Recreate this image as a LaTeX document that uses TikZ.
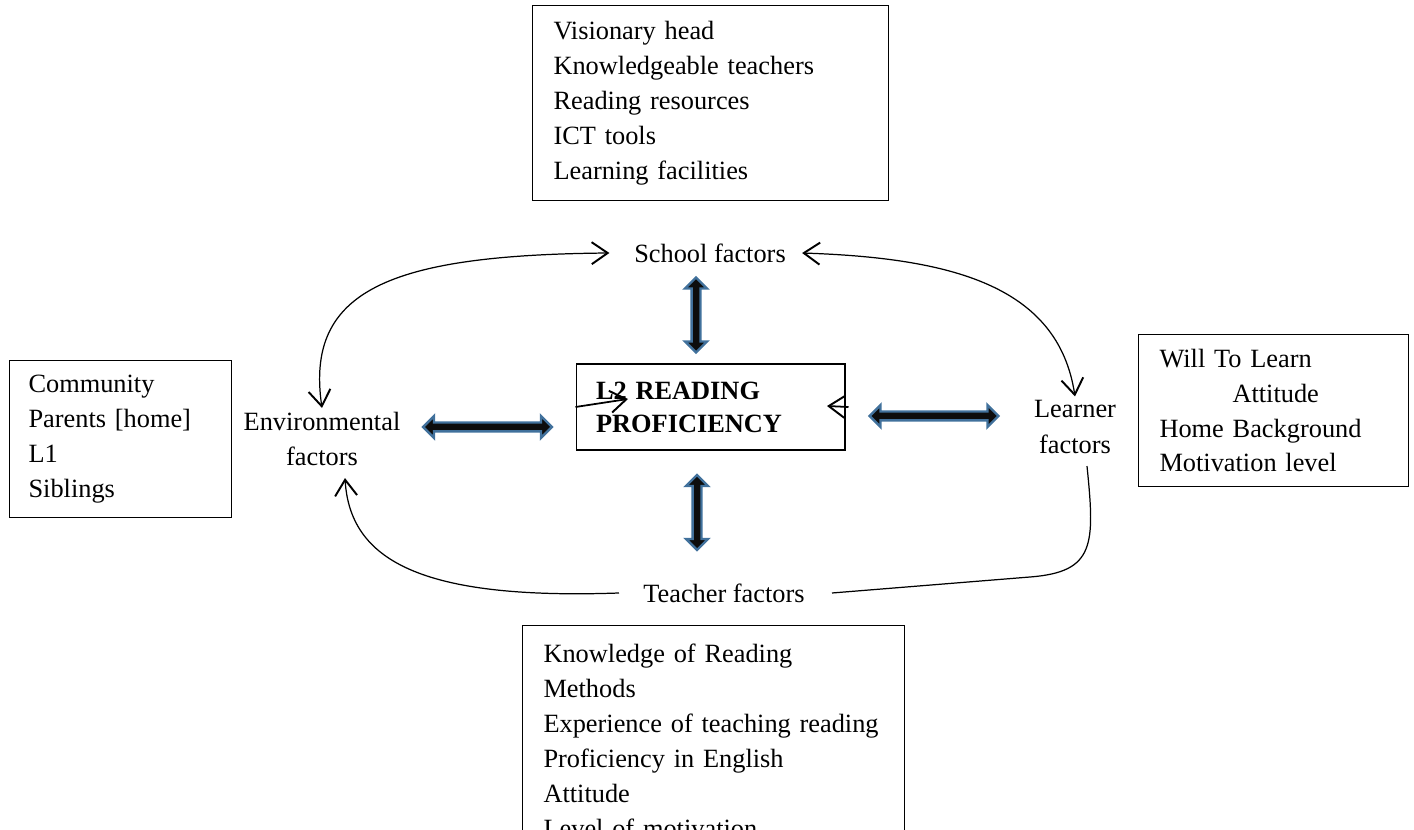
\documentclass[tikz,border=0pt]{standalone}
\usepackage{fontspec}
\setmainfont{Liberation Serif}
\usetikzlibrary{arrows.meta,shapes.arrows,positioning}
\definecolor{arrblue}{RGB}{65,113,156}

\begin{document}
\begin{tikzpicture}[x=0.02cm,y=-0.02cm,
  every node/.style={font=\fontsize{15}{19.9}\selectfont},
  lst/.style={draw,line width=0.6pt,anchor=north west,align=left,inner ysep=0pt},
  lbl/.style={align=center,inner sep=2pt},
  dbl/.style={double arrow,draw=arrblue,fill=black!95,line width=1.4pt,inner xsep=0pt,inner ysep=0.065cm,double arrow head extend=0.13cm},
  lnk/.style={line width=0.7pt},
  >={Straight Barb[length=0.32cm,width=0.44cm,line width=1.1pt]}]
\useasboundingbox (0,0) rectangle (1414,830);

\node[lst,text width=6.28cm,inner xsep=0.42cm,minimum height=3.9cm] (schoollist) at (532,5) {Visionary head\\Knowledgeable teachers\\Reading resources\\ICT tools\\Learning facilities};
\node[lst,text width=3.68cm,inner xsep=0.38cm,minimum height=3.14cm] (envlist) at (9,360) {Community\\Parents [home]\\L1\\Siblings};
\node[lst,text width=4.56cm,inner xsep=0.42cm,minimum height=3.04cm] (learnerlist) at (1138,334) {Will To Learn\\\hspace*{1.46cm}Attitude\\Home Background\\Motivation level};
\node[lst,text width=6.8cm,inner xsep=0.42cm,minimum height=4.6cm] (teacherlist) at (522,625) {Knowledge of Reading\\Methods\\Experience of teaching reading\\Proficiency in English\\Attitude\\Level of motivation};

\node[lbl] (school) at (710,253) {School factors};
\node[lbl,font=\fontsize{15}{20.4}\selectfont] (env) at (322,439) {Environmental\\factors};
\node[lbl,font=\fontsize{15}{20.4}\selectfont] (learner) at (1075,427) {Learner\\factors};
\node[lbl] (teacher) at (724,593) {Teacher factors};
\node[draw,line width=0.6pt,text width=4.58cm,inner xsep=0.4cm,minimum height=1.72cm,align=left,font=\bfseries\fontsize{15}{18.8}\selectfont] (prof) at (710.5,407) {L2 READING\\PROFICIENCY};

\node[dbl,minimum height=1.5cm,rotate=90] (uparr) at (696,315) {};
\node[dbl,minimum height=1.5cm,rotate=90] (dnarr) at (697,512.5) {};
\node[dbl,minimum height=2.58cm] (ltarr) at (487.5,427) {};
\node[dbl,minimum height=2.58cm] (rtarr) at (934,416) {};

\draw[lnk,<->] (env.north) .. controls (305,290) and (390,255) .. ([xshift=-0.42cm]school.west);
\draw[lnk,<->] ([xshift=0.25cm]school.east) .. controls (950,258) and (1058,285) .. (learner.north);
\draw[lnk] ([xshift=0.24cm,yshift=-0.17cm]learner.south) .. controls (1095,545) and (1095,572) .. (1030,577) -- ([xshift=0.47cm]teacher.east);
\draw[lnk,->] ([xshift=-0.41cm]teacher.west) .. controls (420,600) and (350,560) .. ([xshift=0.46cm,yshift=-0.16cm]env.south);

\coordinate (lhead) at (628,399);
\coordinate (rhead) at (827,406);
\draw[line width=1pt,->] (prof.west) -- (lhead);
\draw[line width=1pt,->] ([xshift=0.06cm]prof.east) -- (rhead);
\end{tikzpicture}
\end{document}
